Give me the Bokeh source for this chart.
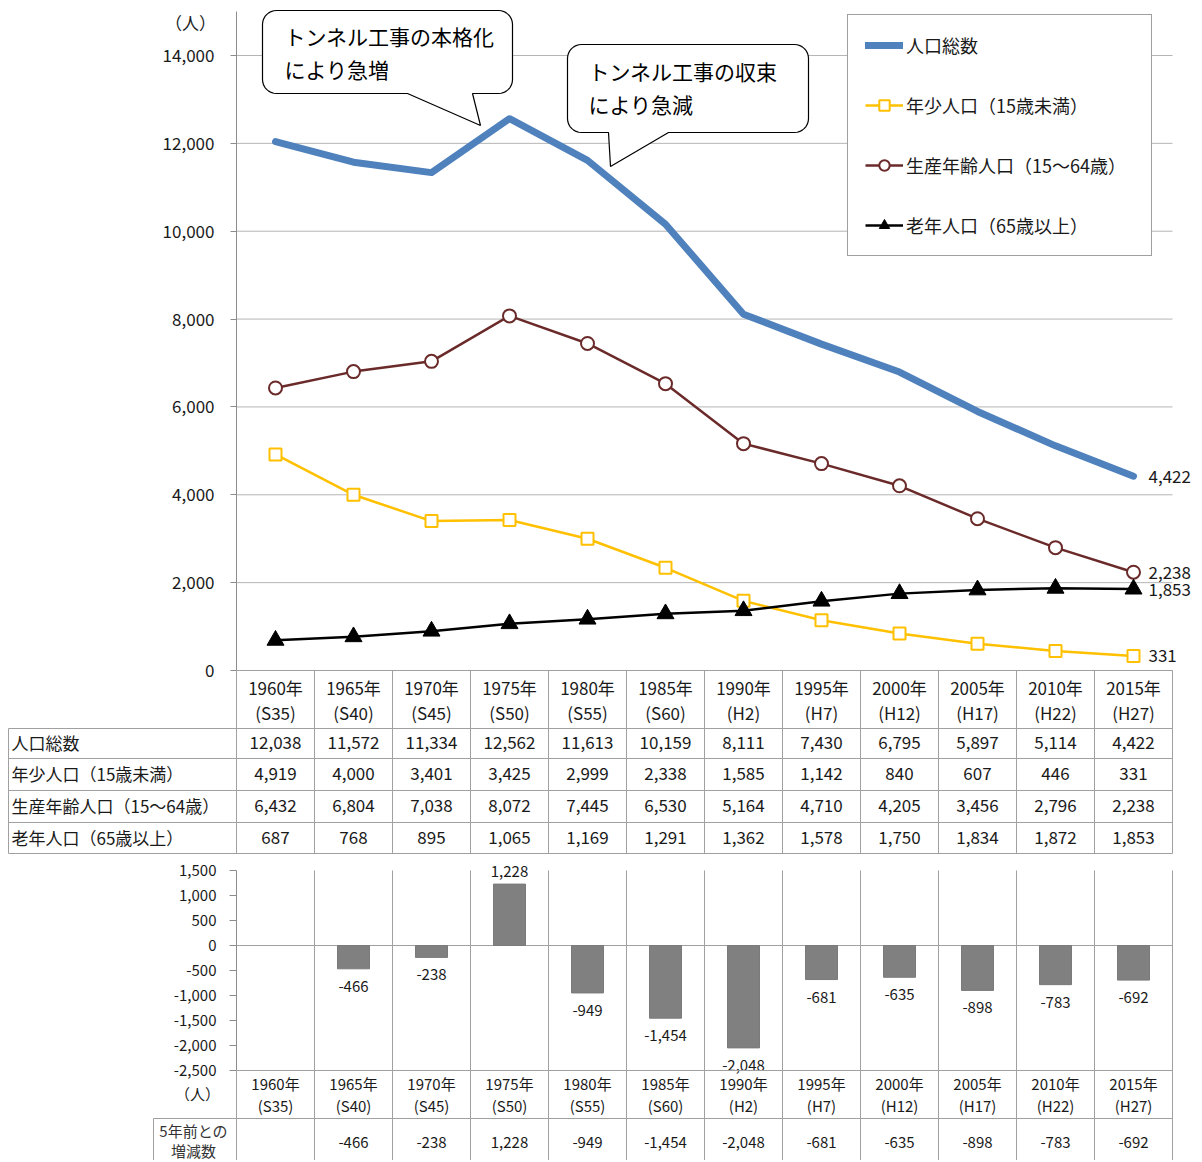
import math
from bokeh.plotting import figure
from bokeh.models import Range1d, FixedTicker, NumeralTickFormatter, Legend, LegendItem
from bokeh.layouts import column
from bokeh.embed import file_html
from bokeh.resources import INLINE
from bokeh.core.properties import value

# ---------------- data ----------------
years = ["1960年", "1965年", "1970年", "1975年", "1980年", "1985年",
         "1990年", "1995年", "2000年", "2005年", "2010年", "2015年"]
eras = ["(S35)", "(S40)", "(S45)", "(S50)", "(S55)", "(S60)",
        "(H2)", "(H7)", "(H12)", "(H17)", "(H22)", "(H27)"]
series_names = ["人口総数", "年少人口（15歳未満）", "生産年齢人口（15～64歳）", "老年人口（65歳以上）"]
total = [12038, 11572, 11334, 12562, 11613, 10159, 8111, 7430, 6795, 5897, 5114, 4422]
young = [4919, 4000, 3401, 3425, 2999, 2338, 1585, 1142, 840, 607, 446, 331]
working = [6432, 6804, 7038, 8072, 7445, 6530, 5164, 4710, 4205, 3456, 2796, 2238]
elderly = [687, 768, 895, 1065, 1169, 1291, 1362, 1578, 1750, 1834, 1872, 1853]
change = [None, -466, -238, 1228, -949, -1454, -2048, -681, -635, -898, -783, -692]
change_row_label = ["5年前との", "増減数"]
unit_label = "（人）"
callout1_text = ["トンネル工事の本格化", "により急増"]
callout2_text = ["トンネル工事の収束", "により急減"]
main_ticks = [0, 2000, 4000, 6000, 8000, 10000, 12000, 14000]
change_ticks = [-2500, -2000, -1500, -1000, -500, 0, 500, 1000, 1500]

# ---------------- styling / layout ----------------
FONT = "Noto Sans CJK JP"
W = 1200
SPLIT = 858            # page y where figure 1 ends / figure 2 starts
HTOT = 1160
H1 = SPLIT
H2 = HTOT - SPLIT
FRAME_L = 236          # page x of frame left
FRAME_R = W            # page x of frame right
COLW = 78
N = len(years)
XMAX = (FRAME_R - FRAME_L) / COLW
xc = [i + 0.5 for i in range(N)]
GRID = "#B5B5B5"
TBL = "#A0A0A0"
AXC = "#8C8C8C"
TXT = "#1A1A1A"


def make_fig(h, yr, pytop, pybot):
    p = figure(width=W, height=h, x_range=Range1d(0, XMAX), y_range=yr,
               x_axis_location=None, y_axis_location="left",
               toolbar_location=None, tools="", output_backend="svg",
               min_border_left=FRAME_L, min_border_right=0,
               min_border_top=0, min_border_bottom=0)
    p.extra_x_ranges = {"px": Range1d(FRAME_L, FRAME_R)}
    p.extra_y_ranges = {"px": Range1d(pybot, pytop)}
    p.outline_line_color = None
    for g in p.grid:
        g.visible = False
    p.background_fill_color = "white"
    p.border_fill_color = "white"
    return p


def style_axis(ax, bounds, ticks, fs, tick_out, standoff):
    ax.bounds = bounds
    ax.ticker = FixedTicker(ticks=ticks)
    ax.formatter = NumeralTickFormatter(format="0,0")
    ax.major_tick_in = 0
    ax.major_tick_out = tick_out
    ax.minor_tick_line_color = None
    ax.axis_line_color = AXC
    ax.major_tick_line_color = AXC
    ax.major_label_text_font = FONT
    ax.major_label_text_font_size = fs
    ax.major_label_text_color = TXT
    ax.major_label_standoff = standoff


def ptext(p, xs, ys, texts, size, align="center", color=TXT, level="overlay"):
    p.text(x=xs, y=ys, text=texts, x_range_name="px", y_range_name="px",
           text_font=value(FONT), text_font_size=size, text_align=align,
           text_baseline="middle", text_color=color, level=level)


def pseg(p, x0, y0, x1, y1, color=TBL, level="overlay", width=1):
    p.segment(x0=x0, y0=y0, x1=x1, y1=y1, x_range_name="px", y_range_name="px",
              line_color=color, line_width=width, level=level)


def callout_path(x0, y0, x1, y1, r, bx0, bx1, tx, ty):
    xs, ys = [], []

    def arc(cx, cy, a0, a1):
        for k in range(9):
            a = math.radians(a0 + (a1 - a0) * k / 8)
            xs.append(cx + r * math.cos(a))
            ys.append(cy + r * math.sin(a))

    arc(x0 + r, y0 + r, 180, 270)
    arc(x1 - r, y0 + r, 270, 360)
    arc(x1 - r, y1 - r, 0, 90)
    xs += [bx1, tx, bx0]
    ys += [y1, ty, y1]
    arc(x0 + r, y1 - r, 90, 180)
    return xs, ys


# ================= Figure 1: line chart + table =================
K1 = 615 / 14000.0
p1 = make_fig(H1, Range1d(-(SPLIT - 670) / K1, 670 / K1), 0, SPLIT)
style_axis(p1.yaxis[0], (0, 15000), main_ticks, "17px", 6, 16)

# horizontal gridlines
p1.segment(x0=[0] * len(main_ticks), x1=[N] * len(main_ticks), y0=main_ticks, y1=main_ticks,
           line_color=GRID, line_width=1)

r_total = p1.line(xc, total, line_color="#4F81BD", line_width=7, line_cap="round", line_join="round")
r_yl = p1.line(xc, young, line_color="#FFC000", line_width=2.5)
r_ys = p1.scatter(xc, young, marker="square", size=12, fill_color="white",
                  line_color="#FFC000", line_width=2)
r_wl = p1.line(xc, working, line_color="#6B2A2A", line_width=2.5)
r_ws = p1.scatter(xc, working, marker="circle", size=13, fill_color="white",
                  line_color="#6B2A2A", line_width=2)
r_el = p1.line(xc, elderly, line_color="black", line_width=2.5)
r_es = p1.scatter(xc, elderly, marker="triangle", size=17, fill_color="black", line_color="black")

# end value labels
last_vals = [total[-1], working[-1], elderly[-1], young[-1]]
p1.text(x=[xc[-1] + 15 / COLW] * 4, y=last_vals, text=[f"{v:,}" for v in last_vals],
        text_font=value(FONT), text_font_size="17px", text_align="left",
        text_baseline="middle", text_color=TXT)

# legend
legend = Legend(items=[
    LegendItem(label=series_names[0], renderers=[r_total]),
    LegendItem(label=series_names[1], renderers=[r_yl, r_ys]),
    LegendItem(label=series_names[2], renderers=[r_wl, r_ws]),
    LegendItem(label=series_names[3], renderers=[r_el, r_es]),
], location=(847 - FRAME_L, SPLIT - 256))
legend.padding = 17
legend.spacing = 34
legend.glyph_width = 38
legend.glyph_height = 26
legend.label_height = 26
legend.label_width = 228
legend.label_standoff = 3
legend.margin = 0
legend.label_text_font = FONT
legend.label_text_font_size = "18px"
legend.label_text_color = TXT
legend.border_line_color = "#404040"
legend.border_line_width = 1
legend.background_fill_color = "white"
legend.background_fill_alpha = 1.0
p1.add_layout(legend)

# callouts
cx1, cy1 = callout_path(262, 10, 512, 93, 14, 407, 472, 480, 125)
p1.patch(cx1, cy1, x_range_name="px", y_range_name="px", fill_color="white",
         line_color="black", line_width=1.2)
cx2, cy2 = callout_path(567, 44, 808, 132, 14, 608, 668, 610, 166)
p1.patch(cx2, cy2, x_range_name="px", y_range_name="px", fill_color="white",
         line_color="black", line_width=1.2)
ptext(p1, [284, 284], [35, 68], callout1_text, "21px", align="left", color="black", level="glyph")
ptext(p1, [588, 588], [70, 103], callout2_text, "21px", align="left", color="black", level="glyph")

# unit label
ptext(p1, [190], [22], [unit_label], "17px")

# table grid
col_x = [FRAME_L + COLW * k for k in range(N + 1)]
tbl_right = col_x[-1]
row_y = [728, 758, 790, 822, 853]
pseg(p1, [FRAME_L], [670], [tbl_right], [670])
pseg(p1, [8] * len(row_y), row_y, [tbl_right] * len(row_y), row_y)
pseg(p1, col_x, [670] * len(col_x), col_x, [853] * len(col_x))
pseg(p1, [8], [728], [8], [853])

# table texts
cent = [FRAME_L + COLW * (i + 0.5) for i in range(N)]
ptext(p1, cent, [687] * N, years, "17px")
ptext(p1, cent, [712] * N, eras, "17px")
row_mid = [742, 773, 805, 837]
for series, ym in zip([total, young, working, elderly], row_mid):
    ptext(p1, cent, [ym] * N, [f"{v:,}" for v in series], "17px")
ptext(p1, [11] * 4, row_mid, series_names, "17px", align="left")

# ================= Figure 2: change bar chart + table =================
K2 = 25 / 500.0
p2 = make_fig(H2, Range1d(-(HTOT - 945) / K2, (945 - SPLIT) / K2), SPLIT, HTOT)
style_axis(p2.yaxis[0], (-2500, 1500), change_ticks, "15px", 7, 13)

# vertical grid / table lines
pseg(p2, [col_x[0]], [1070], [col_x[0]], [HTOT])
pseg(p2, col_x[1:], [870] * N, col_x[1:], [HTOT] * N)
pseg(p2, [FRAME_L], [1070], [tbl_right], [1070])
pseg(p2, [153], [1118], [tbl_right], [1118])
pseg(p2, [153], [1118], [153], [HTOT])
# zero line
p2.segment(x0=[0], y0=[0], x1=[N], y1=[0], line_color=TBL, line_width=1)

idx = [i for i, v in enumerate(change) if v is not None]
bx = [xc[i] for i in idx]
bv = [change[i] for i in idx]
p2.vbar(x=bx, top=bv, bottom=0, width=32 / COLW, fill_color="#808080", line_color="#7A7A7A")
lab_y = [v + 13 / K2 if v > 0 else v - 17.5 / K2 for v in bv]
p2.text(x=bx, y=lab_y, text=[f"{v:,}" for v in bv], text_font=value(FONT),
        text_font_size="15px", text_align="center", text_baseline="middle", text_color=TXT)

# bottom table texts
ptext(p2, cent, [1083] * N, years, "15px")
ptext(p2, cent, [1105] * N, eras, "15px")
ptext(p2, [cent[i] for i in idx], [1142] * len(idx), [f"{v:,}" for v in bv], "15px")
ptext(p2, [197], [1093], [unit_label], "15px")
ptext(p2, [193, 193], [1130, 1150], change_row_label, "15px", color="#333333")

layout = column(p1, p2, spacing=0)
open("out.html", "w").write(file_html(layout, INLINE))
